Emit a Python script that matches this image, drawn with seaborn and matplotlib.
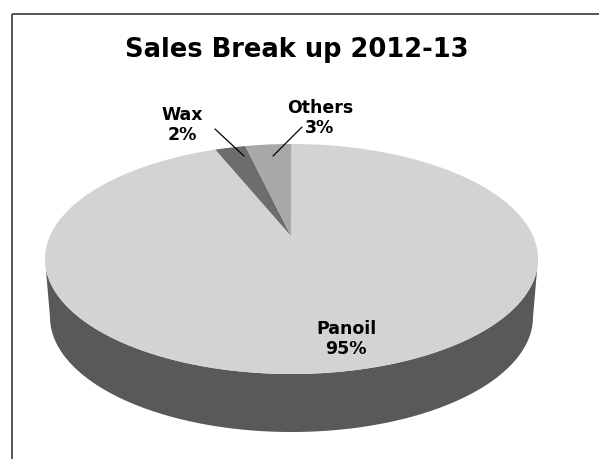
import numpy as np
import matplotlib
matplotlib.use("Agg")
import matplotlib.pyplot as plt
from matplotlib.patches import Polygon, Rectangle
import seaborn as sns

# ---- data ----
title = "Sales Break up 2012-13"
categories = ["Panoil", "Wax", "Others"]
values = [95, 2, 3]

sns.set_theme(style="white")
plt.rcParams['font.family'] = ['DejaVu Sans']

top_colors = {"Panoil": "#d2d3d5", "Wax": "#6c6d6f", "Others": "#a7a8aa"}
side_color = "#58595b"

W, H = 599, 460
fig = plt.figure(figsize=(W / 100, H / 100), dpi=100)
ax = fig.add_axes([0, 0, 1, 1])
ax.set_xlim(0, W)
ax.set_ylim(H, 0)
ax.axis("off")

# chart frame
ax.add_patch(Rectangle((12, 15), 620, 470, fill=False, edgecolor="#555555", lw=1.4))

# geometry of projected pie (screen pixels)
cx, cy, a, b = 291.5, 260.0, 246.5, 115.0
apex = (291.0, 237.0)
depth = 58.0
a_bot = 241.5


def rim(phi_deg, cx=cx, cy=cy, a=a, b=b):
    p = np.radians(phi_deg)
    return np.column_stack([cx + a * np.sin(p), cy - b * np.cos(p)])

# side (front half)
phis = np.linspace(90, 270, 200)
top_edge = rim(phis)
bot_edge = rim(phis[::-1], cy=cy + depth, a=a_bot)
ax.add_patch(Polygon(np.vstack([top_edge, bot_edge]), closed=True,
                     facecolor=side_color, edgecolor="none"))

# wedges: Panoil clockwise from top, small slices counter-clockwise from top
total = float(sum(values))
ang = {c: v / total * 360.0 for c, v in zip(categories, values)}
spans = {}
spans["Others"] = (-ang["Others"], 0.0)
spans["Wax"] = (-ang["Others"] - ang["Wax"], -ang["Others"])
spans["Panoil"] = (0.0, 360.0 - ang["Others"] - ang["Wax"])

for c in categories:
    s, e = spans[c]
    n = max(int(abs(e - s) * 2), 10)
    pts = rim(np.linspace(s, e, n))
    poly = np.vstack([[apex], pts])
    ax.add_patch(Polygon(poly, closed=True, facecolor=top_colors[c],
                         edgecolor="none"))

# title
ax.text(297, 50, title, ha="center", va="center", fontsize=18.5,
        fontweight="bold", color="black")

# labels
lab_font = dict(fontsize=12.5, fontweight="bold", color="black", ha="center",
                va="center", linespacing=1.1)
ax.text(346, 339, f"{categories[0]}\n{values[0]}%", **lab_font)
ax.text(182, 125, f"{categories[1]}\n{values[1]}%", **lab_font)
ax.text(320, 118, f"{categories[2]}\n{values[2]}%", **lab_font)

# leader lines
ax.plot([215, 244], [130, 157], color="black", lw=0.9)
ax.plot([302, 273], [128, 157], color="black", lw=0.9)

fig.savefig("out.png", dpi=100)
